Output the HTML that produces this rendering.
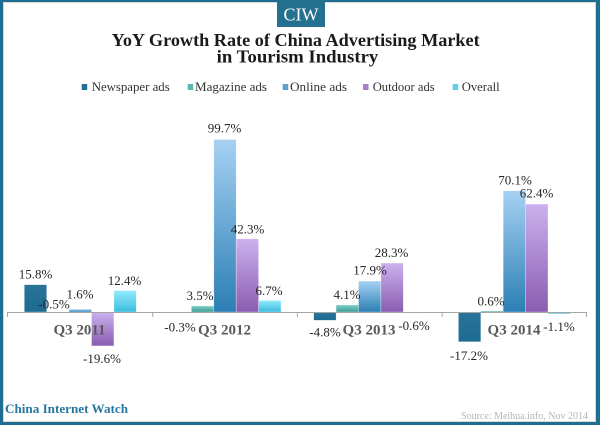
<!DOCTYPE html>
<html>
<head>
<meta charset="utf-8">
<style>
html,body{margin:0;padding:0;background:#fff;}
svg{display:block;}
text{font-family:"Liberation Serif","Times New Roman",serif;}
</style>
</head>
<body>
<svg width="600" height="425" viewBox="0 0 600 425" xmlns="http://www.w3.org/2000/svg">
<defs>
<linearGradient id="gN" x1="0" y1="0" x2="0" y2="1"><stop offset="0" stop-color="#2a7399"/><stop offset="1" stop-color="#1d6b90"/></linearGradient>
<linearGradient id="gM" x1="0" y1="0" x2="0" y2="1"><stop offset="0" stop-color="#7fd0c7"/><stop offset="1" stop-color="#3b9c94"/></linearGradient>
<linearGradient id="gO" x1="0" y1="0" x2="0" y2="1"><stop offset="0" stop-color="#a6d1f3"/><stop offset="1" stop-color="#2b7fb4"/></linearGradient>
<linearGradient id="gD" x1="0" y1="0" x2="0" y2="1"><stop offset="0" stop-color="#ccb1ee"/><stop offset="1" stop-color="#8a5cb0"/></linearGradient>
<linearGradient id="gV" x1="0" y1="0" x2="0" y2="1"><stop offset="0" stop-color="#92eafb"/><stop offset="1" stop-color="#3bbde0"/></linearGradient>
</defs>
<rect x="0" y="0" width="600" height="425" fill="#fff"/>
<!-- border -->
<rect x="3.5" y="2.5" width="592" height="419" fill="none" stroke="#d8d8d8" stroke-width="1"/>
<rect x="0" y="0" width="600" height="2" fill="#1f6e91"/>
<rect x="0" y="0" width="3" height="425" fill="#1f6e91"/>
<rect x="596" y="0" width="4" height="425" fill="#1f6e91"/>
<rect x="0" y="422" width="600" height="3" fill="#1f6e91"/>

<!-- CIW logo -->
<rect x="277" y="0" width="48" height="27" fill="#23708f"/>
<text x="301" y="20.5" text-anchor="middle" font-size="18" fill="#fff">CIW</text>

<!-- Title -->
<text x="111.7" y="46" font-size="18" font-weight="bold" fill="#1a1a1a" textLength="368" lengthAdjust="spacingAndGlyphs">YoY Growth Rate of China Advertising Market</text>
<text x="216.7" y="62.5" font-size="18" font-weight="bold" fill="#1a1a1a" textLength="161.6" lengthAdjust="spacingAndGlyphs">in Tourism Industry</text>

<!-- Legend -->
<g font-size="13" fill="#333">
<rect x="81.7" y="84" width="5.5" height="6" fill="#216f93"/>
<text x="91.7" y="91" textLength="78" lengthAdjust="spacingAndGlyphs">Newspaper ads</text>
<rect x="187.7" y="84" width="5.5" height="6" fill="#5cb8b0"/>
<text x="195" y="91" textLength="72" lengthAdjust="spacingAndGlyphs">Magazine ads</text>
<rect x="282.7" y="84" width="5.5" height="6" fill="#5b9fd0"/>
<text x="290" y="91" textLength="57" lengthAdjust="spacingAndGlyphs">Online ads</text>
<rect x="363" y="84" width="5.5" height="6" fill="#a680cc"/>
<text x="372.7" y="91" textLength="62" lengthAdjust="spacingAndGlyphs">Outdoor ads</text>
<rect x="452.7" y="84" width="5.5" height="6" fill="#5fd0ec"/>
<text x="461.7" y="91" textLength="38" lengthAdjust="spacingAndGlyphs">Overall</text>
</g>

<!-- Bars -->
<g stroke="#ffffff" stroke-opacity="0.5" stroke-width="0.6">
<!-- Q3 2011 -->
<rect x="24.3" y="284.67" width="22.4" height="27.33" fill="url(#gN)"/>
<rect x="46.7" y="312" width="22.4" height="0.87" fill="url(#gM)"/>
<rect x="69.1" y="309.23" width="22.4" height="2.77" fill="url(#gO)"/>
<rect x="91.5" y="312" width="22.4" height="33.91" fill="url(#gD)"/>
<rect x="113.9" y="290.55" width="22.4" height="21.45" fill="url(#gV)"/>
<!-- Q3 2012 -->
<rect x="169.0" y="312" width="22.4" height="0.52" fill="url(#gN)"/>
<rect x="191.4" y="305.94" width="22.4" height="6.06" fill="url(#gM)"/>
<rect x="213.8" y="139.52" width="22.4" height="172.48" fill="url(#gO)"/>
<rect x="236.2" y="238.82" width="22.4" height="73.18" fill="url(#gD)"/>
<rect x="258.6" y="300.41" width="22.4" height="11.59" fill="url(#gV)"/>
<!-- Q3 2013 -->
<rect x="313.7" y="312" width="22.4" height="8.30" fill="url(#gN)"/>
<rect x="336.1" y="304.91" width="22.4" height="7.09" fill="url(#gM)"/>
<rect x="358.5" y="281.03" width="22.4" height="30.97" fill="url(#gO)"/>
<rect x="380.9" y="263.04" width="22.4" height="48.96" fill="url(#gD)"/>
<rect x="403.3" y="312" width="22.4" height="1.04" fill="url(#gV)"/>
<!-- Q3 2014 -->
<rect x="458.4" y="312" width="22.4" height="29.76" fill="url(#gN)"/>
<rect x="480.8" y="310.96" width="22.4" height="1.04" fill="url(#gM)"/>
<rect x="503.2" y="190.73" width="22.4" height="121.27" fill="url(#gO)"/>
<rect x="525.6" y="204.05" width="22.4" height="107.95" fill="url(#gD)"/>
<rect x="548.0" y="312" width="22.4" height="1.90" fill="url(#gV)"/>
</g>

<!-- Axis -->
<g stroke="#a6a6a6" stroke-width="1">
<line x1="7.5" y1="312.5" x2="587" y2="312.5"/>
<line x1="7.5" y1="312" x2="7.5" y2="317"/>
<line x1="152.7" y1="312" x2="152.7" y2="317"/>
<line x1="297.4" y1="312" x2="297.4" y2="317"/>
<line x1="442.1" y1="312" x2="442.1" y2="317"/>
<line x1="586.5" y1="312" x2="586.5" y2="317"/>
</g>

<!-- Category labels -->
<g font-size="15" font-weight="bold" fill="#595959" text-anchor="middle">
<text x="79.5" y="334.5">Q3 2011</text>
<text x="224.5" y="334.5">Q3 2012</text>
<text x="369" y="334.5">Q3 2013</text>
<text x="514" y="334.5">Q3 2014</text>
</g>

<!-- Data labels -->
<g font-size="13" fill="#262626" text-anchor="middle">
<text x="35.5" y="278.5">15.8%</text>
<text x="54" y="308.5">-0.5%</text>
<text x="80" y="298.5">1.6%</text>
<text x="102" y="363">-19.6%</text>
<text x="124.5" y="285">12.4%</text>

<text x="180" y="331.5">-0.3%</text>
<text x="200" y="300">3.5%</text>
<text x="224.5" y="132.5">99.7%</text>
<text x="247.5" y="233.5">42.3%</text>
<text x="269" y="295">6.7%</text>

<text x="325" y="336.5">-4.8%</text>
<text x="347" y="299">4.1%</text>
<text x="370" y="274.5">17.9%</text>
<text x="391.5" y="257">28.3%</text>
<text x="414" y="330">-0.6%</text>

<text x="469" y="360">-17.2%</text>
<text x="491" y="305.5">0.6%</text>
<text x="515" y="184.5">70.1%</text>
<text x="536.5" y="197.5">62.4%</text>
<text x="559" y="331">-1.1%</text>
</g>

<!-- Footer -->
<text x="5" y="413" font-size="13" font-weight="bold" fill="#2877a0" textLength="123" lengthAdjust="spacingAndGlyphs">China Internet Watch</text>
<text x="461" y="419" font-size="11" fill="#b5b5b5" textLength="127" lengthAdjust="spacingAndGlyphs">Source: Meihua.info, Nov 2014</text>
</svg>
</body>
</html>
